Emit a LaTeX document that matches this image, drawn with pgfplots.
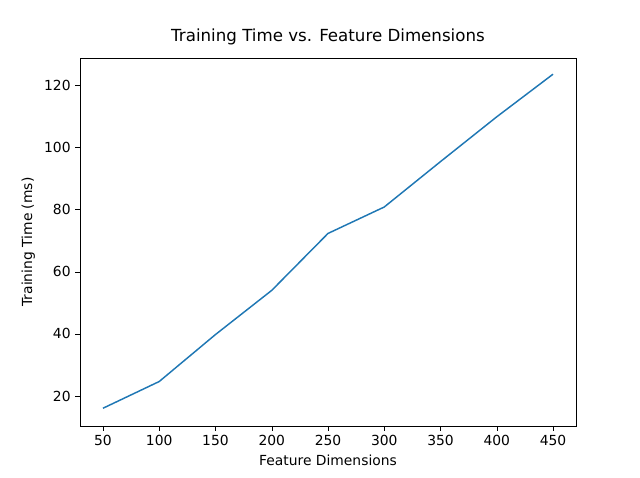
\documentclass[border=0pt]{standalone}
\usepackage{pgfplots}
\pgfplotsset{compat=1.18}
\usepackage{fontspec}
\setmainfont{DejaVu Sans}
\begin{document}
\begin{tikzpicture}[x=0.75pt,y=0.75pt]
\path (0,0) rectangle (640,478);
\begin{axis}[at={(80*0.75pt,52*0.75pt)},anchor=south west,scale only axis,
width=372pt,height=276pt,
xmin=29.6,xmax=470.4,ymin=10.4,ymax=128.7,
xtick={50,100,...,450},ytick={20,40,...,120},
xtick pos=bottom,ytick pos=left,
tick align=outside,tick style={black},
major tick length=3.5pt,
font=\fontsize{10.4}{12}\selectfont,
/pgf/number format/assume math mode=true,
title={\fontsize{12.5}{14}\selectfont Training Time vs. Feature Dimensions},
xlabel={Feature Dimensions},ylabel={Training Time (ms)},
axis line style={black,line width=0.6pt},
]
\addplot[color={rgb,255:red,31;green,119;blue,180},line width=1.1pt] coordinates {
(50,16.1)(100,24.7)(150,39.8)(200,54)(250,72.3)(300,80.8)(350,95.4)(400,109.8)(450,123.5)};
\end{axis}
\end{tikzpicture}
\end{document}
